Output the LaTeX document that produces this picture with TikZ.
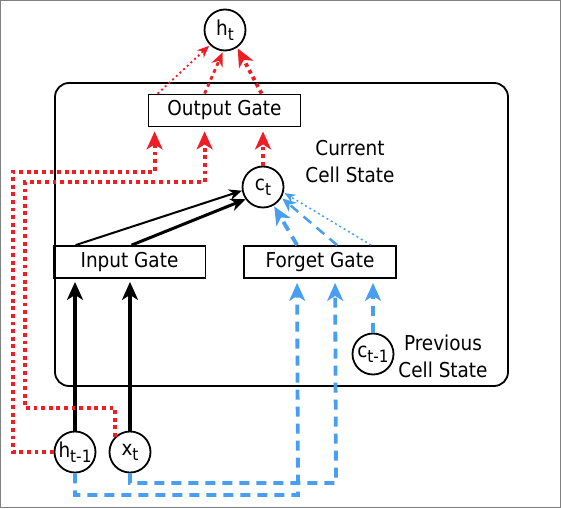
\documentclass[tikz,border=0pt]{standalone}
\usepackage{fontspec}
\setmainfont{DejaVu Sans Condensed}
\usetikzlibrary{arrows.meta, positioning}
\definecolor{gatered}{RGB}{238,30,36}
\definecolor{gateblue}{RGB}{72,158,240}
\newcommand{\lo}[1]{\raisebox{-0.45ex}{\fontsize{17}{17}\selectfont #1}}
\tikzset{
x=1pt, y=-1pt, % pixel-like units, y runs down
>={Stealth[length=18pt, width=16pt, inset=5pt]}, % big arrow heads
node distance=55pt, % distance between the two inputs
every node/.style={font=\fontsize{20.5}{27}\selectfont},
gate/.style={draw, line width=1.8pt, minimum width=152pt, minimum height=32pt, inner sep=0pt},
unit/.style={circle, draw, line width=1.8pt, minimum size=41pt, inner sep=0pt},
solidflow/.style={->, line width=3.2pt, shorten >=3pt},
redflow/.style={->, gatered, line width=3.8pt, dash pattern=on 3.8pt off 3.8pt, shorten >=4pt},
blueflow/.style={->, gateblue, line width=3.8pt, dash pattern=on 10pt off 7pt, shorten >=4pt},
}

\begin{document}
\begin{tikzpicture}
    \useasboundingbox (0,0) rectangle (561,508);
    \draw[gray, line width=1pt] (0.5,0.5) rectangle (560.5,507.5);
    % the cell
    \draw[line width=1.8pt, rounded corners=14pt] (55,83) rectangle (508,386);

    \node[unit] (ht) at (225,30) {h\lo{t}};
    \node[gate] (og) at (224.5,110.5) {Output Gate};
    \node[unit] (ct) at (263,187) {c\lo{t}};
    \node[align=center] (curlabel) at (350,162) {Current\\Cell State};
    \node[gate] (ig) at (129.5,262) {Input Gate};
    \node[gate] (fg) at (320,262) {Forget Gate};
    \node[unit] (cprev) at (373,354) {c\lo{t-1}};
    \node[align=center] (prevlabel) at (443,356) {Previous\\Cell State};
    \node[unit] (hprev) at (75,452) {h\lo{t-1}};
    \node[unit, right of=hprev] (xt) {x\lo{t}};

    % input gate
    \draw[solidflow] (hprev) -- (hprev |- ig.south);
    \draw[solidflow] (xt) -- (xt |- ig.south);
    \draw[->, line width=2pt, >={Stealth[length=13pt, width=11pt]}] ([xshift=23pt]ig.north west) -- (ct.190);
    \draw[->, line width=3pt, >={Stealth[length=15pt, width=13pt]}] ([xshift=79pt]ig.north west) -- (ct.215);

    % forget gate
    \draw[blueflow] (hprev.south) |- (298,495) -- ([xshift=54pt]fg.south west);
    \draw[blueflow] (xt.south) |- (336,483) -- ([xshift=92pt]fg.south west);
    \draw[blueflow] (cprev) -- (cprev |- fg.south);
    \draw[blueflow, shorten >=1pt] ([xshift=54pt]fg.north west) -- (ct.300);
    \draw[blueflow, line width=2.5pt, shorten >=1pt, >={Stealth[length=14pt, width=12pt]}] ([xshift=94pt]fg.north west) -- (ct.330);
    \draw[->, gateblue, line width=1.5pt, dash pattern=on 2pt off 3pt, shorten >=1pt, >={Stealth[length=11pt, width=9pt]}] ([xshift=128pt]fg.north west) -- (ct.345);

    % output gate
    \draw[redflow] (hprev.west) -| (13,172) -| ([xshift=7pt]og.south west);
    \draw[redflow] (xt.135) |- (25,408) -- (25,182) -| ([xshift=57pt]og.south west);
    \draw[redflow] (ct) -- (ct |- og.south);
    \draw[redflow, line width=1.8pt, dash pattern=on 2pt off 3pt, shorten >=1pt, >={Stealth[length=12pt, width=10pt]}] ([xshift=10pt]og.north west) -- (ht.225);
    \draw[redflow, line width=2.8pt, shorten >=1pt, >={Stealth[length=14pt, width=12pt]}] ([xshift=57pt]og.north west) -- (ht.265);
    \draw[redflow, shorten >=1pt] ([xshift=114pt]og.north west) -- (ht.305);
\end{tikzpicture}
\end{document}
